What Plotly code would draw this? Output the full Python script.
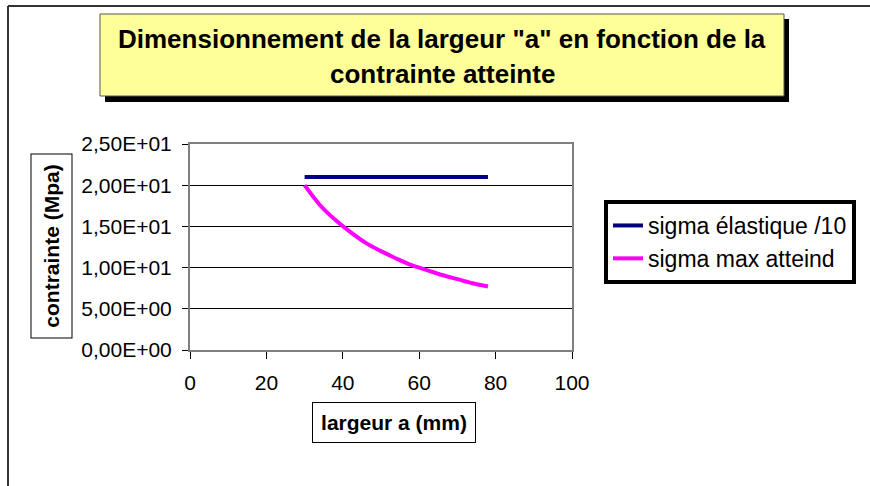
import plotly.graph_objects as go

# largeur a (mm) and the two stress curves (MPa)
largeur_a = [30, 34, 38, 42, 46, 50, 54, 58, 62, 66, 70, 74, 78]
sigma_elastique = [21.0, 21.0, 21.0, 21.0, 21.0, 21.0, 21.0, 21.0, 21.0, 21.0, 21.0, 21.0, 21.0]
sigma_max = [20.0, 17.6, 15.8, 14.3, 13.0, 12.0, 11.1, 10.3, 9.7, 9.1, 8.6, 8.1, 7.7]

y_tickvals = [0, 5, 10, 15, 20, 25]
y_ticktext = ["0,00E+00", "5,00E+00", "1,00E+01", "1,50E+01", "2,00E+01", "2,50E+01"]
x_tickvals = [0, 20, 40, 60, 80, 100]

W, H = 870, 486
# plot area in pixels
PL, PR, PT, PB = 190, 572, 144, 350

FONT = "Arial, Liberation Sans, sans-serif"


def px(x):
    return (x - PL) / (PR - PL)


def py(y):
    return (PB - y) / (PB - PT)


def note(text, x, y, **kw):
    return dict(text=text, x=px(x), y=py(y), xref="paper", yref="paper", showarrow=False,
                xanchor="center", yanchor="middle", **kw)


def pline(x0, y0, x1, y1, **kw):
    return dict(type="line", xref="paper", yref="paper",
                x0=px(x0), y0=py(y0), x1=px(x1), y1=py(y1), **kw)


fig = go.Figure()
fig.add_trace(go.Scatter(
    x=largeur_a, y=sigma_elastique, mode="lines", name="sigma élastique /10",
    line=dict(color="#000080", width=4), legendgroup="a"
))
fig.add_trace(go.Scatter(
    x=largeur_a, y=sigma_max, mode="lines", name="sigma max atteind",
    line=dict(color="#FF00FF", width=4, shape="spline"), legendgroup="b"
))

shapes = [
    # outer chart frame (top and left edges, the rest is cut off)
    pline(8, 6, 870, 6, line=dict(color="#333333", width=2)),
    pline(8, 6, 8, 486, line=dict(color="#333333", width=2)),
    # title shadow + box
    dict(type="rect", xref="paper", yref="paper", x0=px(105), y0=py(19), x1=px(789), y1=py(102),
         fillcolor="black", line=dict(width=0)),
    dict(type="rect", xref="paper", yref="paper", x0=px(100), y0=py(14), x1=px(784), y1=py(96),
         fillcolor="#FFFF99", line=dict(color="#555555", width=1)),
]

annotations = [
    note("<b>Dimensionnement de la largeur \"a\" en fonction de la</b>", 442, 39,
         font=dict(family=FONT, size=26, color="black")),
    note("<b>contrainte atteinte</b>", 442, 74,
         font=dict(family=FONT, size=26, color="black")),
    note("<b>contrainte (Mpa)</b>", 51, 246.5, textangle=-90,
         width=183, height=40, bordercolor="black", borderwidth=1, borderpad=0,
         font=dict(family=FONT, size=21, color="black")),
    note("<b>largeur a (mm)</b>", 394, 422.5,
         width=162, height=39, bordercolor="black", borderwidth=1, borderpad=0,
         font=dict(family=FONT, size=21, color="black")),
]

fig.update_layout(
    width=W, height=H,
    margin=dict(l=PL, r=W - PR, t=PT, b=H - PB, autoexpand=False),
    paper_bgcolor="white", plot_bgcolor="white",
    font=dict(family=FONT, size=21, color="black"),
    showlegend=True,
    legend=dict(
        x=px(604), y=py(200), xanchor="left", yanchor="top",
        bordercolor="black", borderwidth=4, bgcolor="white",
        font=dict(family=FONT, size=23, color="black"),
        traceorder="grouped", tracegroupgap=0,
    ),
    shapes=shapes,
    annotations=annotations,
)

fig.update_xaxes(
    range=[0, 100], tickvals=x_tickvals, ticks="outside", ticklen=7, tickcolor="black",
    showgrid=False, zeroline=False, showline=True, linecolor="#808080", linewidth=2, mirror=True,
    tickfont=dict(size=21), ticklabelstandoff=6, fixedrange=True,
)
fig.update_yaxes(
    range=[0, 25], tickvals=y_tickvals, ticktext=y_ticktext, ticks="outside", ticklen=6,
    tickcolor="black", showgrid=True, gridcolor="black", gridwidth=1, zeroline=False,
    showline=True, linecolor="#808080", linewidth=2, mirror=True,
    tickfont=dict(size=21), ticklabelstandoff=6, fixedrange=True,
)

# drop the page's default body margin so the figure sits at the window's corner
fig.write_html("out.html", config={"displayModeBar": False},
               post_script="document.body.style.margin='0';")
